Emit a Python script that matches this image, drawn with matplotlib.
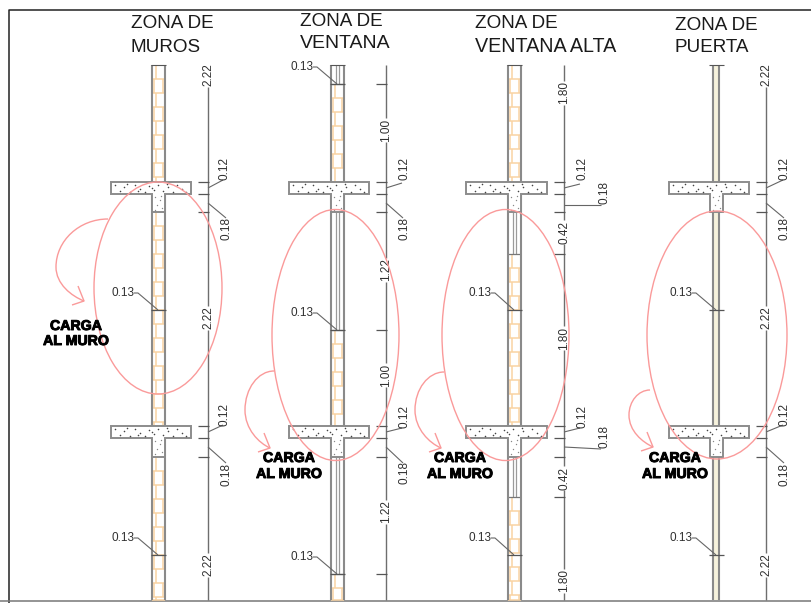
import matplotlib
matplotlib.use("Agg")
import matplotlib.pyplot as plt
from matplotlib.patches import Rectangle, Ellipse, PathPatch
from matplotlib.path import Path
import matplotlib.patheffects as pe

plt.rcParams['font.family'] = ['Liberation Sans', 'DejaVu Sans']

# ---- content (pixel coordinates of the sheet) ----
titles = [("ZONA DE", "MUROS"), ("ZONA DE", "VENTANA"), ("ZONA DE", "VENTANA ALTA"), ("ZONA DE", "PUERTA")]
title_pos = [(131, 24, 47), (300, 21, 43), (475, 24, 46), (675, 26, 48)]
title_size2 = [13.6, 14.0, 14.2, 13.6]

wall_left = [151.5, 330.5, 507.5, 713]
wall_right = [164.5, 343.5, 520.5, 719]
stem_left = [151.5, 330.5, 507.5, 710]
stem_right = [164.5, 343.5, 520.5, 723]
slab_left = [111, 289, 466, 669]
slab_right = [191, 369, 547, 749]
dim_x = [208, 386, 564, 766]

slab_top = [182, 426]
slab_bot = [194, 438]
stem_bot = [212, 457]
wall_top = 65
sheet_bottom = 600

# window / door spans (no masonry)
open_spans = [
    [],
    [(65, 84), (212, 330), (457, 574)],
    [(212, 254), (457, 497)],
    [],
]
brick_spans = [
    [(65, 182), (212, 426), (457, 600)],
    [(84, 182), (330, 426), (574, 600)],
    [(65, 182), (254, 426), (497, 600)],
    [],
]
dim_ticks = [
    [182, 194, 212, 426, 438, 457],
    [84, 182, 194, 212, 330, 426, 438, 457, 574],
    [182, 194, 212, 254, 426, 438, 457, 497],
    [182, 194, 212, 426, 438, 457],
]
dim_labels = [
    [("2.22", 75), ("2.22", 318), ("2.22", 565)],
    [("1.00", 130), ("1.22", 270), ("1.00", 375), ("1.22", 512)],
    [("1.80", 93), ("0.42", 232), ("1.80", 338), ("0.42", 478), ("1.80", 581)],
    [("2.22", 75), ("2.22", 318), ("2.22", 565)],
]
# rotated leader labels: text, text x, text y, leader start (on dim), leader end
leaders = [
    [("0.12", 225, 169, (208, 188), (223, 180)), ("0.18", 226, 229, (208, 203), (226, 218)),
     ("0.12", 225, 414, (208, 432), (223, 425)), ("0.18", 226, 474, (208, 447), (226, 463))],
    [("0.12", 405, 169, (386, 188), (402, 183)), ("0.18", 405, 228, (386, 203), (403, 218)),
     ("0.12", 405, 416, (386, 432), (402, 428)), ("0.18", 405, 472, (386, 447), (403, 463))],
    [("0.12", 582, 169, (564, 188), (580, 184)), ("0.18", 604, 193, (564, 205), (601, 205)),
     ("0.12", 582, 416, (564, 432), (580, 428)), ("0.18", 604, 437, (564, 447), (601, 449))],
    [("0.12", 785, 169, (766, 188), (783, 180)), ("0.18", 785, 229, (766, 203), (784, 218)),
     ("0.12", 785, 414, (766, 432), (783, 425)), ("0.18", 785, 474, (766, 447), (784, 463))],
]
# wall thickness notes: text x, text y, y of the tick on the wall
thick_notes = [
    [(123, 293, 310), (123, 538, 555)],
    [(302, 67, 84), (302, 313, 330), (302, 557, 574)],
    [(480, 293, 310), (480, 538, 555)],
    [(681, 293, 310), (681, 538, 555)],
]
ellipses = [(158, 288, 128, 212), (335.5, 335, 127, 251), (505.5, 335, 127, 251), (717, 335, 140, 248)]
# load arrows: start, leftmost point, tip
arrows = [
    ((108, 219), (56, 267), (84, 301)),
    ((274, 371), (245, 410), (270, 448)),
    ((444, 372), (415, 410), (441, 448)),
    ((650, 390), (629, 415), (653, 447)),
]
load_text = [(76, 326, 341), (289, 458, 474), (460, 458, 474), (675, 458, 474)]
speckle = [(4, 3), (9, 9), (13, 5), (19, 10), (24, 3), (29, 7), (34, 10), (38, 4), (43, 8), (47, 3),
           (52, 9), (57, 5), (62, 10), (66, 3), (71, 7), (75, 10), (16, 2), (41, 6), (27, 9), (56, 2)]
stem_speckle = [(3, 3), (8, 6), (5, 11), (10, 14), (3, 16), (9, 2)]

WALL = "#8a8a8a"
BRICK = "#f9d3a3"
PINK = "#fa9a9a"
DIM = "#6e6e6e"
TXT = "#303030"
COURSE = 14.0

fig = plt.figure(figsize=(8.11, 6.03), dpi=100)
ax = fig.add_axes([0, 0, 1, 1])
ax.set_xlim(0, 811)
ax.set_ylim(603, 0)
ax.axis("off")

# sheet frame
ax.plot([8.5, 8.5, 811], [603, 9.5, 9.5], color="#222222", lw=1.1)
ax.plot([0, 811], [601, 601], color="#777777", lw=1.1)


def line(xs, ys, color=WALL, lw=1.0, z=3):
    ax.plot(xs, ys, color=color, lw=lw, zorder=z, solid_capstyle="butt")


for i in range(4):
    l, r = wall_left[i], wall_right[i]
    cx = (l + r) / 2
    # masonry courses
    for (a, b) in brick_spans[i]:
        y = a
        k = 0
        while y < b:
            y2 = min(y + COURSE, b)
            line([l, r], [y2, y2], BRICK, 1.1, 2)
            if k % 2 == 0:
                line([l + 4, l + 4], [y, y2], BRICK, 1.1, 2)
            else:
                line([l + 2, l + 2], [y, y2], BRICK, 1.1, 2)
                line([r - 1.5, r - 1.5], [y, y2], BRICK, 1.1, 2)
            y = y2
            k += 1
    # openings
    for (a, b) in open_spans[i]:
        line([cx - 1, cx - 1], [a, b], "#9a9a9a", 0.9)
        line([cx + 1.5, cx + 1.5], [a, b], "#9a9a9a", 0.9)
        line([l, r], [b, b], "#777777", 0.9)
    # door leaf
    if i == 3:
        ax.add_patch(Rectangle((l, wall_top), r - l, sheet_bottom - wall_top, fc="#f6f2dc", ec="none", zorder=1))
    # wall faces
    line([l, l], [wall_top, sheet_bottom], WALL, 1.5)
    line([r, r], [wall_top, sheet_bottom], WALL, 1.5)
    line([cx - 7.5, cx + 7.5], [wall_top, wall_top], "#555555", 0.8)

    # slabs and stems
    for t, bo, sb in zip(slab_top, slab_bot, stem_bot):
        sl, sr = slab_left[i], slab_right[i]
        xs = [sl, sr, sr, stem_right[i], stem_right[i], stem_left[i], stem_left[i], sl, sl]
        ys = [t, t, bo, bo, sb, sb, bo, bo, t]
        ax.fill(xs, ys, fc="white", ec="#8c8c8c", lw=1.4, zorder=4)
        ax.scatter([sl + dx for dx, _ in speckle], [t + dy for _, dy in speckle], s=1.3, c="#444444", lw=0, zorder=5)
        ax.scatter([stem_left[i] + dx for dx, _ in stem_speckle], [bo + dy for _, dy in stem_speckle],
                   s=1.0, c="#888888", lw=0, zorder=5)

    # dimension line with gaps under the labels
    d = dim_x[i]
    edges = [wall_top]
    for _, yc in dim_labels[i]:
        edges += [yc - 12, yc + 12]
    edges.append(sheet_bottom)
    for a, b in zip(edges[0::2], edges[1::2]):
        if b > a:
            line([d, d], [a, b], DIM, 1.0)
    for y in dim_ticks[i]:
        line([d - 10, d + 1], [y, y], "#555555", 0.9)
    for s, yc in dim_labels[i]:
        ax.text(d, yc, s, rotation=90, ha="center", va="center", fontsize=8.5, color=TXT, zorder=6)

    # leader labels
    for s, tx, ty, p0, p1 in leaders[i]:
        line([p0[0], p1[0]], [p0[1], p1[1]], "#666666", 0.8)
        ax.text(tx, ty, s, rotation=90, ha="center", va="center", fontsize=8.5, color=TXT, zorder=6)

    # wall thickness notes
    for tx, ty, wy in thick_notes[i]:
        line([cx - 7.5, cx + 7.5], [wy, wy], "#555555", 0.9, 6)
        line([tx + 11, tx + 15, cx], [ty, ty, wy], "#666666", 0.8, 6)
        ax.text(tx, ty, "0.13", ha="center", va="center", fontsize=8.5, color=TXT, zorder=6)

    # load ellipse
    ex, ey, ew, eh = ellipses[i]
    ax.add_patch(Ellipse((ex, ey), ew, eh, fc="none", ec=PINK, lw=1.0, zorder=7))

    # load arrow
    s, m, t = arrows[i]
    verts = [s, (m[0] + (s[0] - m[0]) * 0.45, s[1]), (m[0], m[1] - (m[1] - s[1]) * 0.55), m,
             (m[0], m[1] + (t[1] - m[1]) * 0.5), (t[0] - (t[0] - m[0]) * 0.45, t[1] - 5), t]
    codes = [Path.MOVETO] + [Path.CURVE4] * 6
    ax.add_patch(PathPatch(Path(verts, codes), fc="none", ec=PINK, lw=1.0, zorder=7))
    line([t[0] - 6, t[0], t[0] - 12], [t[1] - 15, t[1], t[1] + 4], PINK, 1.0, 7)

    # load text
    tx, y1, y2 = load_text[i]
    for lab, yy in (("CARGA", y1), ("AL MURO", y2)):
        ax.text(tx, yy, lab, ha="center", va="center", fontsize=10.2, fontweight="bold", color="black", zorder=8,
                path_effects=[pe.withStroke(linewidth=0.7, foreground="black")])

    # titles
    tx, y1, y2 = title_pos[i]
    ax.text(tx, y1, titles[i][0], ha="left", va="center", fontsize=13.6, color="#1a1a1a", zorder=8)
    ax.text(tx, y2, titles[i][1], ha="left", va="center", fontsize=title_size2[i], color="#1a1a1a", zorder=8)

fig.savefig("out.png", dpi=100)
